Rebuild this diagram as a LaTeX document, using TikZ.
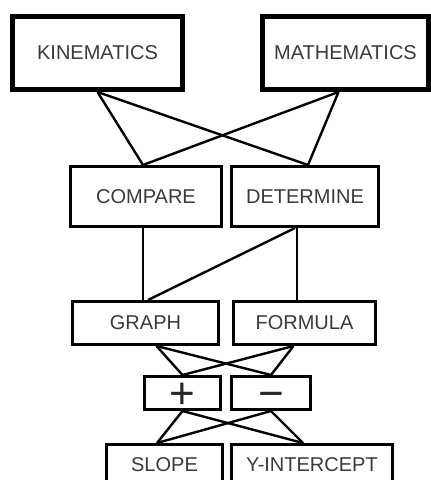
\documentclass[tikz,border=0pt]{standalone}
\usepackage{fontspec}
\setmainfont{Liberation Sans}
\usepackage{tikz}
\definecolor{ink}{HTML}{3A3A3A}

\begin{document}
\begin{tikzpicture}[x=1pt,y=-1pt,
  box/.style={draw=black,line width=3pt,fill=white,inner sep=0pt,text=ink,
    font=\fontsize{20}{22}\selectfont},
  heavybox/.style={box,line width=5pt},
  signbox/.style={box,text=black!85,text height=0pt,text depth=0pt,
    font=\fontsize{44}{44}\selectfont},
  link/.style={draw=black,line width=2.4pt}]
  \useasboundingbox (0,0) rectangle (431,480);
  \clip (0,0) rectangle (431,480);
  % top level
  \node[heavybox,minimum width=170pt,minimum height=73pt] (kin) at (97.5,53) {KINEMATICS};
  \node[heavybox,minimum width=166pt,minimum height=73pt] (math) at (345.5,53) {MATHEMATICS};
  % verbs
  \node[box,minimum width=151pt,minimum height=60pt] (cmp) at (146,196.5) {COMPARE};
  \node[box,minimum width=147pt,minimum height=60pt] (det) at (305,196.5) {DETERMINE};
  % representations
  \node[box,minimum width=146pt,minimum height=43pt] (graph) at (145.5,323) {GRAPH};
  \node[box,minimum width=142pt,minimum height=43pt] (formula) at (304.5,323) {FORMULA};
  % signs
  \node[signbox,minimum width=76pt,minimum height=33pt] (plus) at (182.5,393) {\raisebox{-15pt}{+}};
  \node[signbox,minimum width=79pt,minimum height=33pt] (minus) at (271,393) {\raisebox{-15pt}{−}};
  % bottom
  \node[box,minimum width=116pt,minimum height=40pt] (slope) at (164.5,464.5) {SLOPE};
  \node[box,minimum width=161pt,minimum height=40pt] (yint) at (312,464.5) {Y-INTERCEPT};

  \draw[link] (kin.south) -- ([xshift=-3pt]cmp.north);
  \draw[link] (kin.south) -- ([xshift=3pt]det.north);
  \draw[link] ([xshift=-7pt]math.south) -- ([xshift=-3pt]cmp.north);
  \draw[link] ([xshift=-7pt]math.south) -- ([xshift=3pt]det.north);

  \draw[link] ([xshift=-3pt]cmp.south) -- ([xshift=-2.5pt]graph.north);
  \draw[link] ([xshift=-10pt]det.south) -- ([xshift=2.5pt]graph.north);
  \draw[link] ([xshift=-8pt]det.south) -- ([xshift=-7.5pt]formula.north);

  \draw[link] ([xshift=11pt]graph.south) -- (plus.north);
  \draw[link] ([xshift=11pt]graph.south) -- (minus.north);
  \draw[link] ([xshift=-11pt]formula.south) -- (plus.north);
  \draw[link] ([xshift=-11pt]formula.south) -- (minus.north);

  \draw[link] (plus.south) -- ([xshift=-7.5pt]slope.north);
  \draw[link] (plus.south) -- ([xshift=-9pt]yint.north);
  \draw[link] (minus.south) -- ([xshift=-7.5pt]slope.north);
  \draw[link] (minus.south) -- ([xshift=-9pt]yint.north);
\end{tikzpicture}
\end{document}
